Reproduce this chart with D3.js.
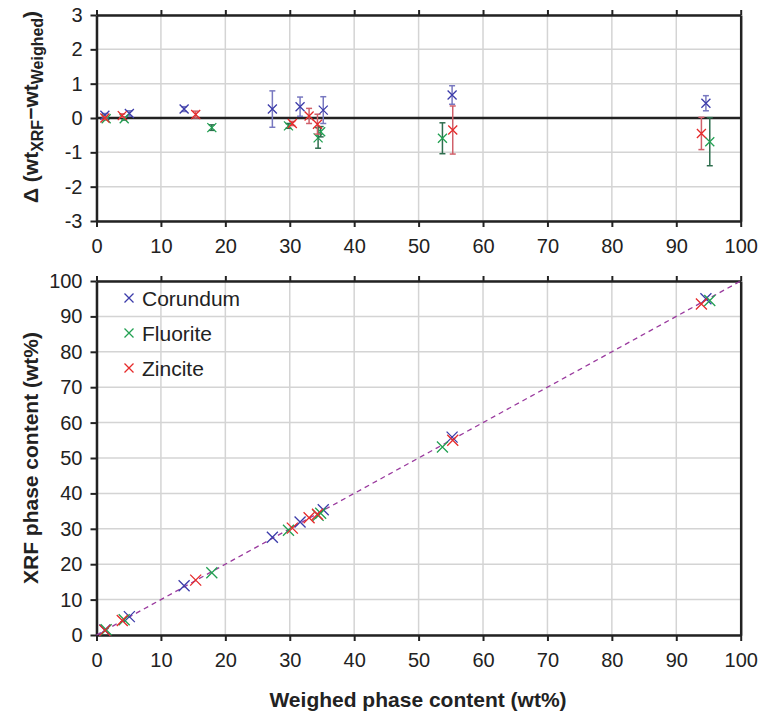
<!DOCTYPE html>
<html>
<head>
<meta charset="utf-8">
<script src="https://cdn.jsdelivr.net/npm/d3@7"></script>
<style>
    body { margin: 0; background: #fff; }
    svg { display: block; font-family: "Liberation Sans", Arial, sans-serif; }
</style>
</head>
<body>
<div id="chart"></div>
<script>
const seriesNames = ["Corundum", "Fluorite", "Zincite"];
const markerColours = ["#3c3caa", "#22a052", "#e62a2a"];
const barColours = ["#7878c0", "#2e6e4e", "#d0606a"];

const weighedCorundum = [1.3, 5.1, 13.6, 27.3, 31.6, 35.2, 55.2, 94.6];
const deltaCorundum = [0.08, 0.13, 0.26, 0.26, 0.33, 0.23, 0.67, 0.43];
const errCorundum = [0.05, 0.08, 0.07, 0.53, 0.28, 0.39, 0.27, 0.22];
const xrfCorundum = [1.4, 5.2, 13.9, 27.6, 31.9, 35.4, 55.9, 95.0];

const weighedFluorite = [1.5, 4.3, 17.9, 29.8, 34.4, 34.8, 53.7, 95.2];
const deltaFluorite = [-0.02, -0.02, -0.28, -0.23, -0.58, -0.4, -0.59, -0.69];
const errFluorite = [0.03, 0.04, 0.08, 0.07, 0.3, 0.15, 0.45, 0.7];
const xrfFluorite = [1.5, 4.3, 17.6, 29.6, 33.8, 34.4, 53.1, 94.5];

const weighedZincite = [1.3, 4.0, 15.4, 30.4, 33.0, 34.3, 55.3, 93.9];
const deltaZincite = [0.0, 0.07, 0.1, -0.16, 0.06, -0.18, -0.35, -0.45];
const errZincite = [0.04, 0.05, 0.1, 0.06, 0.22, 0.29, 0.7, 0.47];
const xrfZincite = [1.3, 4.1, 15.5, 30.2, 33.1, 34.1, 55.0, 93.5];

const xTicks = [0, 10, 20, 30, 40, 50, 60, 70, 80, 90, 100];
const deltaTicks = [-3, -2, -1, 0, 1, 2, 3];
const xrfTicks = [0, 10, 20, 30, 40, 50, 60, 70, 80, 90, 100];

const series = [
    { weighed: weighedCorundum, delta: deltaCorundum, err: errCorundum, xrf: xrfCorundum },
    { weighed: weighedFluorite, delta: deltaFluorite, err: errFluorite, xrf: xrfFluorite },
    { weighed: weighedZincite, delta: deltaZincite, err: errZincite, xrf: xrfZincite }
].map((s, i) => ({
    name: seriesNames[i],
    colour: markerColours[i],
    barColour: barColours[i],
    points: s.weighed.map((w, j) => ({ w, d: s.delta[j], e: s.err[j], xrf: s.xrf[j] }))
}));

const width = 762, height = 715;
const left = 96.5, right = 740.7;
const topPanel = { top: 15, bottom: 221 };
const bottomPanel = { top: 281, bottom: 635 };
const ink = "#222";
const gridColour = "#d4d4d4";

const svg = d3.select("#chart").append("svg")
    .attr("width", width)
    .attr("height", height);

const x = d3.scaleLinear().domain([0, 100]).range([left, right]);
const yDelta = d3.scaleLinear().domain([-3, 3]).range([topPanel.bottom, topPanel.top]);
const yXrf = d3.scaleLinear().domain([0, 100]).range([bottomPanel.bottom, bottomPanel.top]);

const cross = (g, cx, cy, s, colour, w) => {
    g.append("path")
        .attr("d", `M${cx - s},${cy - s}L${cx + s},${cy + s}M${cx - s},${cy + s}L${cx + s},${cy - s}`)
        .attr("stroke", colour)
        .attr("stroke-width", w)
        .attr("fill", "none");
};

const drawFrame = (y, yTicks, panel) => {
    const g = svg.append("g");

    g.selectAll(".vgrid")
        .data(xTicks)
        .enter().append("line")
        .attr("x1", d => x(d)).attr("x2", d => x(d))
        .attr("y1", panel.top).attr("y2", panel.bottom)
        .attr("stroke", gridColour).attr("stroke-width", 1.5);

    g.selectAll(".hgrid")
        .data(yTicks)
        .enter().append("line")
        .attr("x1", left).attr("x2", right)
        .attr("y1", d => y(d)).attr("y2", d => y(d))
        .attr("stroke", gridColour).attr("stroke-width", 1.5);

    const xAxis = g.append("g")
        .attr("transform", `translate(0,${panel.bottom})`)
        .call(d3.axisBottom(x).tickValues(xTicks).tickSize(6).tickSizeOuter(0).tickPadding(12));

    const xTop = g.append("g")
        .attr("transform", `translate(0,${panel.top})`)
        .call(d3.axisTop(x).tickValues(xTicks).tickSize(5).tickSizeOuter(0).tickFormat(() => ""));

    const yAxis = g.append("g")
        .attr("transform", `translate(${left},0)`)
        .call(d3.axisLeft(y).tickValues(yTicks).tickSize(6).tickSizeOuter(0).tickPadding(8)
            .tickFormat(d => String(d)));

    const yRight = g.append("g")
        .attr("transform", `translate(${right},0)`)
        .call(d3.axisRight(y).tickValues(yTicks).tickSize(0).tickSizeOuter(0).tickFormat(() => ""));

    [xAxis, xTop, yAxis, yRight].forEach(a => {
        a.select(".domain").attr("stroke", ink).attr("stroke-width", 2.5);
        a.selectAll(".tick line").attr("stroke", ink).attr("stroke-width", 2);
        a.selectAll("text").style("fill", ink).style("font-size", "20px")
            .style("font-family", "'Liberation Sans', Arial, sans-serif");
    });

    return g;
};

// top panel: differences
const topGroup = drawFrame(yDelta, deltaTicks, topPanel);

topGroup.append("line")
    .attr("x1", left).attr("x2", right)
    .attr("y1", yDelta(0)).attr("y2", yDelta(0))
    .attr("stroke", ink).attr("stroke-width", 2.5);

series.forEach(s => {
    const g = svg.append("g");
    s.points.forEach(p => {
        const cx = x(p.w);
        g.append("line")
            .attr("x1", cx).attr("x2", cx)
            .attr("y1", yDelta(p.d + p.e)).attr("y2", yDelta(p.d - p.e))
            .attr("stroke", s.barColour).attr("stroke-width", 1.5);
        [p.d + p.e, p.d - p.e].forEach(v => {
            g.append("line")
                .attr("x1", cx - 3).attr("x2", cx + 3)
                .attr("y1", yDelta(v)).attr("y2", yDelta(v))
                .attr("stroke", s.barColour).attr("stroke-width", 1.5);
        });
        cross(g, cx, yDelta(p.d), 4.5, s.colour, 1.3);
    });
});

// bottom panel: XRF vs weighed
const bottomGroup = drawFrame(yXrf, xrfTicks, bottomPanel);

bottomGroup.append("line")
    .attr("x1", x(0)).attr("x2", x(100))
    .attr("y1", yXrf(0)).attr("y2", yXrf(100))
    .attr("stroke", "#9a3a9e")
    .attr("stroke-width", 1.3)
    .attr("stroke-dasharray", "5,4");

series.forEach(s => {
    const g = svg.append("g");
    s.points.forEach(p => cross(g, x(p.w), yXrf(p.xrf), 5.5, s.colour, 1.3));
});

const legend = svg.append("g");
series.forEach((s, i) => {
    const ly = 298 + i * 35;
    cross(legend, 129, ly, 4.5, s.colour, 1.3);
    legend.append("text")
        .attr("x", 142)
        .attr("y", ly + 7.5)
        .style("font-size", "21px")
        .style("fill", ink)
        .text(s.name);
});

// axis titles
svg.append("text")
    .attr("x", 418)
    .attr("y", 707)
    .style("text-anchor", "middle")
    .style("font-size", "21px")
    .style("font-weight", "bold")
    .style("fill", ink)
    .text("Weighed phase content (wt%)");

svg.append("text")
    .attr("transform", "rotate(-90)")
    .attr("x", -(bottomPanel.top + bottomPanel.bottom) / 2)
    .attr("y", 38)
    .style("text-anchor", "middle")
    .style("font-size", "21px")
    .style("font-weight", "bold")
    .style("fill", ink)
    .text("XRF phase content (wt%)");

const deltaTitle = svg.append("text")
    .attr("transform", "rotate(-90)")
    .attr("x", -107)
    .attr("y", 38)
    .style("text-anchor", "middle")
    .style("font-size", "21px")
    .style("font-weight", "bold")
    .style("fill", ink);

deltaTitle.append("tspan").text("Δ (wt");
deltaTitle.append("tspan").attr("dy", 5).style("font-size", "16px").text("XRF");
deltaTitle.append("tspan").attr("dy", -5).text("−wt");
deltaTitle.append("tspan").attr("dy", 5).style("font-size", "16px").text("Weighed");
deltaTitle.append("tspan").attr("dy", -5).text(")");
</script>
</body>
</html>
